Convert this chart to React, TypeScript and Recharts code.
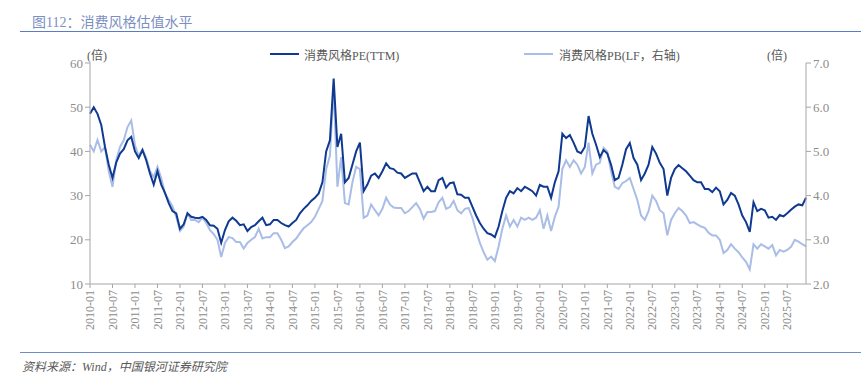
import React from 'react';
import { LineChart, Line, XAxis, YAxis } from 'recharts';

// 月度数据：2010-01 ~ 2025-12
const years = [2010, 2011, 2012, 2013, 2014, 2015, 2016, 2017, 2018, 2019, 2020, 2021, 2022, 2023, 2024, 2025];
const monthNums = ['01', '02', '03', '04', '05', '06', '07', '08', '09', '10', '11', '12'];

// 消费风格PE(TTM)，左轴
const peTTM = [
  48.5, 50, 48.5, 46, 41, 37, 34, 37.5, 39.5, 40.5, 42.5, 43.3,
  40, 38.5, 40.3, 38, 35, 32.5, 35.5, 32.5, 30.6, 28.3, 26.5, 26,
  22.5, 23.5, 26, 25.2, 25, 24.9, 25.2, 24.5, 23.3, 23.2, 22.5, 19.3,
  22.2, 24.2, 25, 24.3, 23.3, 23.5, 22, 22.9, 23.3, 24.2, 25, 23.3,
  23.5, 24.5, 24.5, 23.8, 23.3, 23, 23.8, 24.5, 26, 27, 27.8, 28.8,
  29.5, 30.5, 33, 40, 42.5, 56.5, 41, 44, 33, 34, 37, 40,
  42, 31, 32.5, 34.5, 35, 34, 35.5, 37.3, 36.2, 36, 35.2, 35,
  34, 34.5, 35, 35, 33, 31, 32, 31, 31, 33.5, 34, 31.8,
  32.8, 33, 30.3, 30.2, 29.5, 29.5, 27.5, 25.5, 23.8, 22.5, 21.5, 21.2,
  20.6, 23, 26.5, 29.5, 31, 30.5, 31.7, 31, 32, 31.5, 31, 30,
  32.4, 32, 32, 29.5, 33, 35.5, 44, 43, 43.7, 42, 40, 39.6,
  41, 48, 44, 41.5, 38.7, 40.3, 39.5, 37, 33.5, 34, 37, 40.5,
  41.9, 38.5, 37, 33.5, 35, 37, 41, 39.5, 37.4, 36, 30, 34,
  36, 36.9, 36.2, 35.5, 34.5, 33.5, 33, 33, 31.5, 31.5, 30.8, 31.8,
  31, 28, 29, 30.6, 30, 28, 25.5, 24, 21.8, 28.5, 26.5, 27,
  26.7, 25, 25.2, 24.5, 25.6, 25.3, 26, 26.8, 27.5, 28, 27.8, 29.5,
];

// 消费风格PB(LF)，右轴
const pbLF = [
  5.15, 5.0, 5.26, 5.0, 5.1, 4.55, 4.2, 4.8, 5.1, 5.25, 5.55, 5.7,
  5.14, 4.9, 5.05, 4.85, 4.55, 4.42, 4.65, 4.4, 4.05, 3.9, 3.76, 3.52,
  3.2, 3.3, 3.6, 3.45, 3.45, 3.4, 3.5, 3.38, 3.22, 3.13, 3.0, 2.61,
  2.93, 3.06, 3.04, 2.95, 2.95, 2.8, 2.93, 3.0, 3.06, 3.25, 3.03, 3.06,
  3.06, 3.15, 3.15, 3.0, 2.81, 2.85, 2.95, 3.03, 3.15, 3.26, 3.33, 3.4,
  3.52, 3.7, 3.88, 4.6, 4.9, 6.46, 4.2, 4.87, 3.83, 3.8, 4.3, 4.65,
  4.6, 3.5, 3.55, 3.8, 3.67, 3.55, 3.7, 3.95, 3.8, 3.73, 3.72, 3.72,
  3.6, 3.65, 3.74, 3.83, 3.7, 3.48, 3.63, 3.63, 3.65, 3.85, 3.95, 3.7,
  3.74, 3.88, 3.67, 3.6, 3.7, 3.72, 3.5, 3.2, 2.93, 2.72, 2.55, 2.62,
  2.52, 2.85, 3.25, 3.55, 3.3, 3.45, 3.3, 3.5, 3.45, 3.5, 3.45, 3.5,
  3.67, 3.25, 3.55, 3.2, 3.52, 3.75, 4.6, 4.8, 4.65, 4.8, 4.7, 4.5,
  4.65, 5.2, 4.5, 4.7, 4.74, 5.08, 5.0, 4.55, 4.2, 4.15, 4.28, 4.33,
  4.4, 4.15, 3.9, 3.55, 3.45, 3.65, 4.0, 3.88, 3.67, 3.6, 3.1, 3.45,
  3.6, 3.72, 3.65, 3.55, 3.38, 3.4, 3.35, 3.3, 3.27, 3.16, 3.1, 3.1,
  3.0, 2.7, 2.77, 2.9, 2.8, 2.72, 2.6, 2.5, 2.33, 2.9, 2.8, 2.9,
  2.85, 2.8, 2.88, 2.65, 2.77, 2.73, 2.77, 2.84, 3.0, 2.96, 2.9, 2.85,
];

const leftTicks = [10, 20, 30, 40, 50, 60];
const rightTicks = [2, 3, 4, 5, 6, 7];

const months = years.flatMap((y) => monthNums.map((m) => `${y}-${m}`));
const data = months.map((date, i) => ({ date, pe: peTTM[i], pb: pbLF[i] }));

const FONT = "'Liberation Serif', 'Noto Sans CJK SC', serif";
const AXIS = '#a6a6a6';
const TICK = '#8c8c8c';
const DARK = '#0f3a8f';
const LIGHT = '#a9bde6';

const XTick = ({ x, y, payload }: any) => (
  <text
    x={x}
    y={y}
    transform={`rotate(-90, ${x}, ${y})`}
    textAnchor="end"
    dy="0.35em"
    fill={TICK}
    fontSize={12}
    fontFamily={FONT}
  >
    {payload.value}
  </text>
);

const App: React.FC = () => {
  return (
    <div style={{ position: 'absolute', left: 0, top: 0, width: 861, height: 374, background: '#fff', fontFamily: FONT }}>
      <div style={{ position: 'absolute', left: 32, top: 11, fontSize: 14, color: '#7b8fc2', whiteSpace: 'nowrap' }}>
        图112：消费风格估值水平
      </div>
      <div style={{ position: 'absolute', left: 20, top: 31, width: 841, height: 0, borderTop: '1.5px solid #5a7cc4' }} />

      <div style={{ position: 'absolute', left: 87, top: 46, fontSize: 12, color: '#595959' }}>(倍)</div>
      <div style={{ position: 'absolute', left: 767, top: 46, fontSize: 12, color: '#595959' }}>(倍)</div>

      <div style={{ position: 'absolute', left: 270, top: 53, width: 29, borderTop: `2px solid ${DARK}` }} />
      <div style={{ position: 'absolute', left: 304, top: 46, fontSize: 12, color: '#595959', whiteSpace: 'nowrap' }}>
        消费风格PE(TTM)
      </div>
      <div style={{ position: 'absolute', left: 524, top: 53, width: 29, borderTop: `2px solid ${LIGHT}` }} />
      <div style={{ position: 'absolute', left: 559, top: 46, fontSize: 12, color: '#595959', whiteSpace: 'nowrap' }}>
        消费风格PB(LF，右轴)
      </div>

      <div style={{ position: 'absolute', left: 0, top: 0 }}>
        <LineChart width={861} height={374} data={data} margin={{ top: 63, left: 50, right: 15, bottom: 40 }}>
          <XAxis
            dataKey="date"
            interval={5}
            tick={<XTick />}
            height={50}
            stroke={AXIS}
            tickSize={4}
            padding={{ left: 0, right: 0 }}
          />
          <YAxis
            yAxisId="left"
            domain={[10, 60]}
            ticks={leftTicks}
            width={40}
            stroke={AXIS}
            tickSize={5}
            tick={{ fill: TICK, fontSize: 13, fontFamily: FONT }}
            allowDataOverflow
          />
          <YAxis
            yAxisId="right"
            orientation="right"
            domain={[2, 7]}
            ticks={rightTicks}
            width={40}
            stroke={AXIS}
            tickSize={5}
            tickFormatter={(v: number) => v.toFixed(1)}
            tick={{ fill: TICK, fontSize: 13, fontFamily: FONT }}
            allowDataOverflow
          />
          <Line
            yAxisId="right"
            dataKey="pb"
            stroke={LIGHT}
            strokeWidth={2}
            dot={false}
            isAnimationActive={false}
          />
          <Line
            yAxisId="left"
            dataKey="pe"
            stroke={DARK}
            strokeWidth={2}
            dot={false}
            isAnimationActive={false}
          />
        </LineChart>
      </div>

      <div style={{ position: 'absolute', left: 20, top: 352, width: 841, height: 0, borderTop: '1.5px solid #6d8cc8' }} />
      <div style={{ position: 'absolute', left: 22, top: 357, fontSize: 12, color: '#595959', fontStyle: 'italic', whiteSpace: 'nowrap' }}>
        资料来源：Wind，中国银河证券研究院
      </div>
    </div>
  );
};

export default App;
